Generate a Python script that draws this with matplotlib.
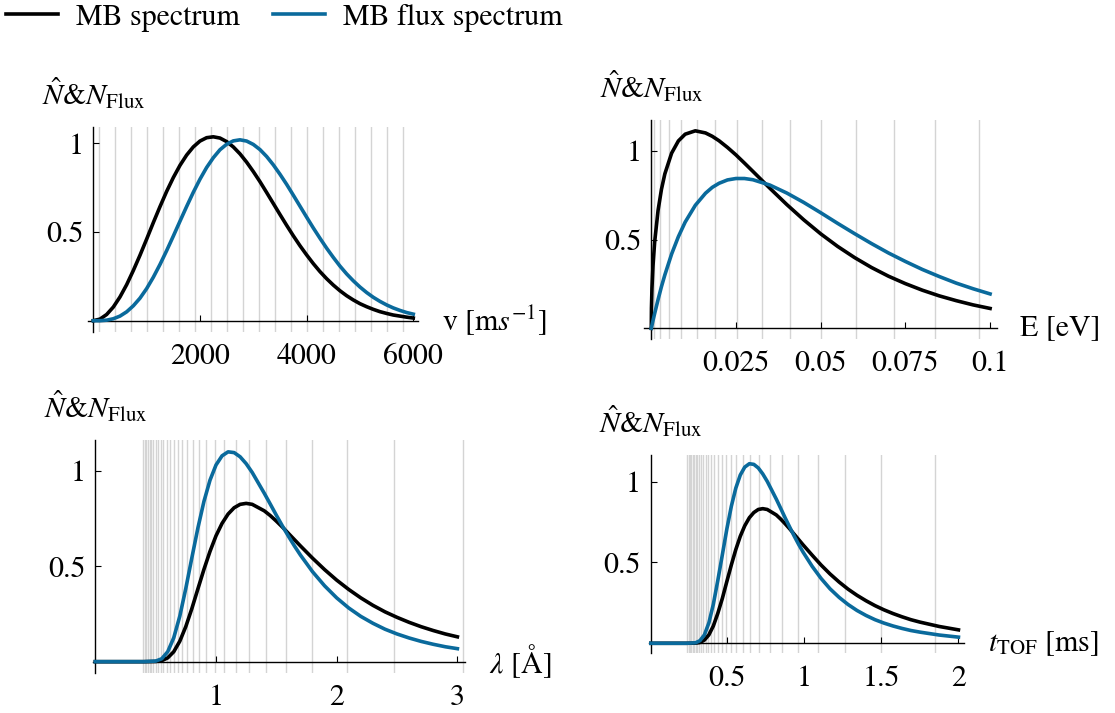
import numpy as np
import matplotlib.pyplot as plt
from matplotlib.lines import Line2D

plt.rcParams['font.family'] = 'STIXGeneral'
plt.rcParams['mathtext.fontset'] = 'stix'

# velocity spectrum (v in m/s)
v_ms = [0, 125, 250, 375, 500, 625, 750, 875, 1000, 1125, 1250, 1375, 1500, 1625, 1750, 1875,
        2000, 2125, 2250, 2375, 2500, 2625, 2750, 2875, 3000, 3125, 3250, 3375, 3500, 3625,
        3750, 3875, 4000, 4125, 4250, 4375, 4500, 4625, 4750, 4875, 5000, 5125, 5250, 5375,
        5500, 5625, 5750, 5875, 6000]
v_black = [0, 0.009, 0.035, 0.077, 0.134, 0.203, 0.283, 0.369, 0.460, 0.553, 0.643, 0.729,
           0.807, 0.876, 0.934, 0.980, 1.013, 1.032, 1.037, 1.030, 1.010, 0.980, 0.941, 0.894,
           0.841, 0.784, 0.723, 0.661, 0.599, 0.538, 0.479, 0.423, 0.371, 0.322, 0.277, 0.237,
           0.201, 0.169, 0.141, 0.117, 0.096, 0.079, 0.064, 0.051, 0.041, 0.032, 0.026, 0.020,
           0.015]
v_blue = [0, 0.000, 0.003, 0.011, 0.026, 0.050, 0.084, 0.127, 0.181, 0.245, 0.317, 0.395,
          0.477, 0.561, 0.644, 0.724, 0.798, 0.864, 0.919, 0.964, 0.995, 1.014, 1.020, 1.013,
          0.994, 0.965, 0.926, 0.879, 0.826, 0.769, 0.708, 0.646, 0.584, 0.523, 0.465, 0.409,
          0.357, 0.308, 0.264, 0.225, 0.190, 0.159, 0.132, 0.109, 0.089, 0.072, 0.058, 0.046,
          0.037]

# energy spectrum (E in eV)
e_ev = [0, 0.00005, 0.0002, 0.0005, 0.001, 0.002, 0.003, 0.004, 0.006, 0.008, 0.010, 0.013,
        0.016, 0.018, 0.020, 0.0225, 0.025, 0.0275, 0.030, 0.035, 0.040, 0.045, 0.050, 0.055,
        0.060, 0.065, 0.070, 0.075, 0.080, 0.085, 0.090, 0.095, 0.100]
e_black = [0, 0.113, 0.225, 0.352, 0.488, 0.665, 0.784, 0.871, 0.988, 1.057, 1.095, 1.114,
           1.102, 1.083, 1.058, 1.020, 0.978, 0.932, 0.885, 0.790, 0.698, 0.612, 0.533, 0.462,
           0.399, 0.343, 0.294, 0.252, 0.215, 0.183, 0.156, 0.132, 0.112]
e_blue = [0, 0.004, 0.017, 0.043, 0.084, 0.162, 0.235, 0.301, 0.419, 0.517, 0.599, 0.694,
          0.762, 0.795, 0.818, 0.837, 0.845, 0.845, 0.838, 0.808, 0.763, 0.710, 0.652, 0.592,
          0.534, 0.478, 0.425, 0.377, 0.332, 0.292, 0.255, 0.223, 0.194]

# wavelength spectrum (lambda in Angstrom)
lam_aa = [0, 0.4, 0.5, 0.55, 0.6, 0.65, 0.7, 0.75, 0.8, 0.85, 0.9, 0.95, 1.0, 1.05, 1.1, 1.15,
          1.2, 1.25, 1.3, 1.4, 1.45, 1.5, 1.55, 1.6, 1.65, 1.7, 1.8, 1.9, 2.0, 2.1, 2.2, 2.3,
          2.4, 2.5, 2.6, 2.7, 2.8, 2.9, 3.0]
lam_black = [0, 0.000, 0.001, 0.005, 0.020, 0.052, 0.107, 0.184, 0.278, 0.381, 0.483, 0.577,
             0.659, 0.724, 0.773, 0.806, 0.824, 0.829, 0.824, 0.790, 0.765, 0.736, 0.705,
             0.672, 0.639, 0.606, 0.542, 0.482, 0.427, 0.378, 0.334, 0.295, 0.261, 0.232,
             0.206, 0.183, 0.163, 0.145, 0.130]
lam_blue = [0, 0.000, 0.003, 0.015, 0.052, 0.125, 0.238, 0.384, 0.544, 0.700, 0.839, 0.950,
            1.030, 1.078, 1.099, 1.095, 1.073, 1.037, 0.991, 0.882, 0.825, 0.767, 0.711,
            0.657, 0.606, 0.558, 0.471, 0.397, 0.334, 0.281, 0.237, 0.201, 0.170, 0.145,
            0.124, 0.106, 0.091, 0.078, 0.068]

# time of flight spectrum (t in ms)
t_ms = [0, 0.233, 0.292, 0.321, 0.350, 0.379, 0.408, 0.437, 0.467, 0.496, 0.525, 0.554, 0.583,
        0.612, 0.642, 0.671, 0.700, 0.729, 0.758, 0.817, 0.846, 0.875, 0.904, 0.933, 0.962,
        0.991, 1.050, 1.108, 1.166, 1.225, 1.283, 1.341, 1.400, 1.458, 1.516, 1.575, 1.633,
        1.691, 1.750, 1.875, 2.000]
t_black = [0, 0.000, 0.001, 0.005, 0.020, 0.052, 0.107, 0.185, 0.279, 0.383, 0.485, 0.580,
           0.662, 0.727, 0.777, 0.809, 0.828, 0.833, 0.828, 0.794, 0.768, 0.739, 0.708, 0.675,
           0.642, 0.609, 0.545, 0.484, 0.429, 0.379, 0.335, 0.297, 0.263, 0.233, 0.207, 0.184,
           0.164, 0.146, 0.131, 0.104, 0.083]
t_blue = [0, 0.000, 0.003, 0.016, 0.052, 0.126, 0.241, 0.388, 0.550, 0.708, 0.848, 0.960,
          1.041, 1.090, 1.111, 1.107, 1.085, 1.048, 1.002, 0.892, 0.834, 0.775, 0.719, 0.664,
          0.612, 0.564, 0.476, 0.401, 0.337, 0.284, 0.240, 0.203, 0.172, 0.146, 0.125, 0.107,
          0.092, 0.079, 0.069, 0.051, 0.038]

# bin edges (gray lines) in each unit
v_grid = [100, 400, 700, 1000, 1300, 1600, 1900, 2200, 2500, 2800, 3100, 3400, 3700, 4000,
          4300, 4600, 4900, 5200, 5500, 5800, 6100]
e_grid = [0.00005, 0.00084, 0.00256, 0.00523, 0.00883, 0.01338, 0.01887, 0.0253, 0.03267,
          0.04098, 0.05023, 0.06042, 0.07156, 0.08363, 0.09665]
lam_grid = [0.396, 0.408, 0.421, 0.435, 0.450, 0.465, 0.482, 0.501, 0.521, 0.542, 0.565, 0.590,
            0.618, 0.649, 0.682, 0.719, 0.761, 0.807, 0.860, 0.920, 0.989, 1.069, 1.164, 1.276,
            1.413, 1.582, 1.798, 2.082, 2.472, 3.043]
t_grid = [0.240, 0.247, 0.255, 0.264, 0.273, 0.282, 0.293, 0.304, 0.316, 0.329, 0.343, 0.358,
          0.375, 0.393, 0.414, 0.436, 0.462, 0.490, 0.522, 0.558, 0.600, 0.649, 0.706, 0.774,
          0.857, 0.960, 1.091, 1.263, 1.500, 1.846]

blue = '#0a6a9c'
W, H = 1115, 713
lw = 2.6
ylab = r'$\hat{N}$&$N_{\mathrm{Flux}}$'

panels = [
    # x, black, blue, grid, box(px: left, right, top, bottom), xlim, ylim, xticks, labels, xlabel
    (v_ms, v_black, v_blue, v_grid, (88.3, 418.3, 126.7, 331.7), (-94, 6094), (-0.062, 1.094),
     [2000, 4000, 6000], ['2000', '4000', '6000'], r'v [m$s^{-1}$]'),
    (e_ev, e_black, e_blue, e_grid, (644, 996.7, 120, 339.3), (-0.00215, 0.10195), (-0.062, 1.175),
     [0.025, 0.05, 0.075, 0.1], ['0.025', '0.05', '0.075', '0.1'], 'E [eV]'),
    (lam_aa, lam_black, lam_blue, lam_grid, (92.7, 465, 440, 673.3), (-0.0215, 3.063), (-0.061, 1.161),
     [1, 2, 3], ['1', '2', '3'], r'$\lambda$ [Å]'),
    (t_ms, t_black, t_blue, t_grid, (648.5, 964, 455, 653.3), (-0.013, 2.036), (-0.062, 1.165),
     [0.5, 1, 1.5, 2], ['0.5', '1', '1.5', '2'], r'$t_{\mathrm{TOF}}$ [ms]'),
]

fig = plt.figure(figsize=(W / 100, H / 100), dpi=100)

for x, yb, yf, grid, box, xlim, ylim, xt, xtl, xlab in panels:
    l, r, t, b = box
    ax = fig.add_axes([l / W, 1 - b / H, (r - l) / W, (b - t) / H])
    for g in grid:
        ax.axvline(g, color='#d4d4d4', lw=1.0, zorder=0)
    ax.plot(x, yb, color='black', lw=lw, zorder=2, solid_joinstyle='round')
    ax.plot(x, yf, color=blue, lw=lw, zorder=3, solid_joinstyle='round')
    ax.set_xlim(xlim)
    ax.set_ylim(ylim)
    for s in ['top', 'right']:
        ax.spines[s].set_visible(False)
    ax.spines['left'].set_position(('data', 0))
    ax.spines['bottom'].set_position(('data', 0))
    ax.spines['left'].set_linewidth(1.0)
    ax.spines['bottom'].set_linewidth(1.0)
    ax.set_xticks(xt)
    ax.set_xticklabels(xtl)
    ax.set_yticks([0.5, 1])
    ax.set_yticklabels(['0.5', '1'])
    ax.tick_params(axis='both', direction='in', length=4, width=0.8, labelsize=21.5)
    ax.tick_params(axis='x', pad=16)
    ax.tick_params(axis='y', pad=7)
    ax.patch.set_alpha(0)
    ax.annotate(xlab, xy=(1, 0), xycoords=('axes fraction', 'data'), xytext=(17, 0),
                textcoords='offset points', ha='left', va='center', fontsize=21.5)
    ax.annotate(ylab, xy=(0, 1), xycoords=('data', 'axes fraction'), xytext=(0, 15.5),
                textcoords='offset points', ha='center', va='baseline', fontsize=21.5)

handles = [Line2D([], [], color='black', lw=lw), Line2D([], [], color=blue, lw=lw)]
fig.legend(handles, ['MB spectrum', 'MB flux spectrum'], loc='upper left',
           bbox_to_anchor=(0.004, 0.997), ncol=2, frameon=False, fontsize=21.5,
           handlelength=1.75, handletextpad=0.6, columnspacing=1.1, borderaxespad=0.0,
           borderpad=0.05)

fig.savefig('out.png', dpi=100)
